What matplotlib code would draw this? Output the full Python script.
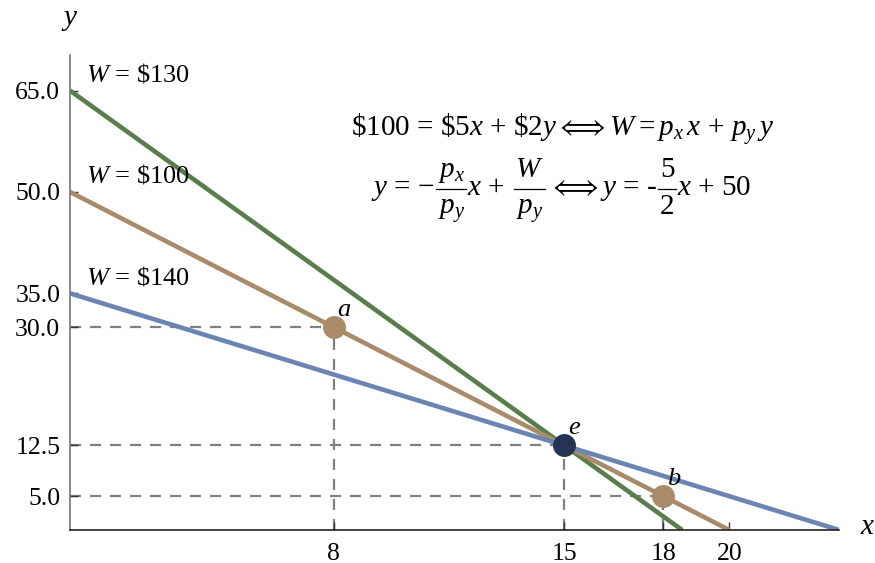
import matplotlib
matplotlib.use("Agg")
import matplotlib.pyplot as plt
from matplotlib.lines import Line2D
import numpy as np

plt.rcParams['font.family'] = ['Liberation Serif', 'DejaVu Serif']
plt.rcParams['mathtext.fontset'] = 'custom'
plt.rcParams['mathtext.rm'] = 'Liberation Serif'
plt.rcParams['mathtext.it'] = 'Liberation Serif:italic'
plt.rcParams['mathtext.bf'] = 'Liberation Serif:bold'
plt.rcParams['mathtext.fallback'] = 'stix'

# Budget lines: (label, y-intercept, x-intercept, color)
line_labels = ["$W$ = \\$130", "$W$ = \\$100", "$W$ = \\$140"]
y_intercepts = [65.0, 50.0, 35.0]
x_intercepts = [65.0 / 3.5, 20.0, 35.0 / 1.5]
line_colors = ["#5a7d4e", "#a98b6a", "#6a85b4"]

# Points
point_names = ["a", "e", "b"]
point_x = [8, 15, 18]
point_y = [30.0, 12.5, 5.0]
point_colors = ["#a98b6a", "#243553", "#a98b6a"]

xticks = [8, 15, 18, 20]
yticks = [5.0, 12.5, 30.0, 35.0, 50.0, 65.0]

W, H = 875, 563
fig = plt.figure(figsize=(W / 100, H / 100), dpi=100)
ax = fig.add_axes([0.08, 0.0586, 0.879, 0.843])

# dashed guide lines
for px, py in zip(point_x, point_y):
    ax.plot([0, px], [py, py], ls=(0, (5, 4)), color="#808080", lw=1.6, zorder=1)
    ax.plot([px, px], [0, py], ls=(0, (5, 4)), color="#808080", lw=1.6, zorder=1)

for lab, yi, xi, c in zip(line_labels, y_intercepts, x_intercepts, line_colors):
    ax.plot([0, xi], [yi, 0], color=c, lw=3.3, solid_capstyle='butt', zorder=2)
    ax.text(0.5, yi + 0.6, lab, fontsize=19, ha='left', va='bottom')

for n, px, py, c in zip(point_names, point_x, point_y, point_colors):
    ax.plot(px, py, 'o', ms=15.5, color=c, zorder=3)
    ax.text(px + 0.1, py + 0.9, n, fontsize=19, style='italic', ha='left', va='bottom')

ax.set_xlim(0, 35.0 / 1.5)
ax.set_ylim(0, 70.2)
ax.set_xticks(xticks)
ax.set_xticklabels([str(t) for t in xticks])
ax.set_yticks(yticks)
ax.set_yticklabels([f"{t:.1f}" for t in yticks])
ax.tick_params(direction='in', length=6, width=1, labelsize=18.5, colors="#333333", labelcolor='black')
ax.tick_params(axis='x', pad=9)
ax.tick_params(axis='y', pad=7)
ax.spines['top'].set_visible(False)
ax.spines['right'].set_visible(False)
ax.spines['left'].set_color('#777777')
ax.spines['bottom'].set_color('#222222')
ax.spines['left'].set_linewidth(1.2)
ax.spines['bottom'].set_linewidth(1.2)

fig.text(70 / W, 1 - 20 / H, "$y$", fontsize=21, ha='center', va='center')
fig.text(868 / W, 1 - 527 / H, "$x$", fontsize=21, ha='center', va='center')

fig.text(563 / W, 1 - 130 / H,
         r"\$100 = \$5$x$ + \$2$y \Longleftrightarrow W = p_x\,x\, +\, p_y\,y$",
         fontsize=21, ha='center', va='center')

# Second equation line, laid out piece by piece with display-size fractions
renderer = fig.canvas.get_renderer()
FS = 21
base_y = 195      # baseline of main text (pixels from top)
bar_y = 188.5     # fraction bar
num_y = 177       # numerator baseline
den_y = 214       # denominator baseline
items = [
    ("t", r"$y$ = $-$", 2),
    ("f", (r"$p_x$", r"$p_y$"), 1),
    ("t", r"$x$ +", 9),
    ("f", (r"$W$", r"$p_y$"), 3),
    ("t", r"$\Longleftrightarrow y$ = -", 1),
    ("f", ("5", "2"), 1),
    ("t", r"$x$ + 50", 0),
]
placed = []
for kind, content, gap in items:
    if kind == "t":
        t = fig.text(0, 1 - base_y / H, content, fontsize=FS, ha='left', va='baseline')
        w = t.get_window_extent(renderer).width
        placed.append(("t", [t], w, gap))
    else:
        tn = fig.text(0, 1 - num_y / H, content[0], fontsize=FS, ha='center', va='baseline')
        td = fig.text(0, 1 - den_y / H, content[1], fontsize=FS, ha='center', va='baseline')
        w = max(tn.get_window_extent(renderer).width, td.get_window_extent(renderer).width) + 3
        placed.append(("f", [tn, td], w, gap))
total = sum(p[2] + p[3] for p in placed)
x = 561 - total / 2
for kind, texts, w, gap in placed:
    if kind == "t":
        texts[0].set_x(x / W)
    else:
        for t in texts:
            t.set_x((x + w / 2) / W)
        fig.add_artist(Line2D([x / W, (x + w) / W], [1 - bar_y / H, 1 - bar_y / H],
                              transform=fig.transFigure, color='black', lw=0.9))
    x += w + gap

fig.savefig("out.png", dpi=100)
